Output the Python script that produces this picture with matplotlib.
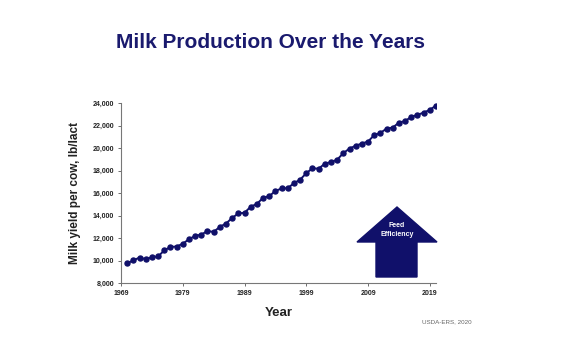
import matplotlib
matplotlib.use("Agg")
import matplotlib.pyplot as plt
from matplotlib.patches import Polygon

plt.rcParams['font.family'] = ['Liberation Sans', 'DejaVu Sans']

years = list(range(1970, 2021))
milk_per_cow = [
    9751, 10015, 10259, 10119, 10293, 10360, 10894, 11206, 11243, 11488,
    11891, 12183, 12306, 12622, 12541, 12994, 13285, 13786, 14185, 14244,
    14782, 15031, 15570, 15722, 16179, 16405, 16433, 16871, 17185, 17763,
    18197, 18162, 18608, 18749, 18960, 19550, 19951, 20204, 20396, 20576,
    21149, 21345, 21722, 21816, 22259, 22396, 22775, 22941, 23149, 23391,
    23777,
]
x_ticks = [1969, 1979, 1989, 1999, 2009, 2019]
y_ticks = list(range(8000, 24001, 2000))

navy = '#10106a'

fig = plt.figure(figsize=(5.67, 3.41), dpi=100)
ax = fig.add_axes([121 / 567, 58 / 341, 315 / 567, 180 / 341])

ax.plot(years, milk_per_cow, color=navy, lw=1.4, marker='o', ms=3.6,
        markerfacecolor=navy, markeredgecolor=navy)

ax.set_xlim(1969, 2020)
ax.set_ylim(8000, 24000)
ax.set_xticks(x_ticks)
ax.set_xticklabels([str(y) for y in x_ticks])
ax.set_yticks(y_ticks)
ax.set_yticklabels([f'{v:,}' for v in y_ticks])
ax.tick_params(axis='both', labelsize=5, colors='#555555', labelcolor='#222222',
               length=2, width=0.6, pad=3)
for lab in ax.get_xticklabels() + ax.get_yticklabels():
    lab.set_fontweight('bold')

for side in ('top', 'right'):
    ax.spines[side].set_visible(False)
for side in ('left', 'bottom'):
    ax.spines[side].set_color('#777777')
    ax.spines[side].set_linewidth(0.8)

ax.set_ylabel('Milk yield per cow, lb/lact', fontsize=8.5, fontweight='bold',
              color='#222222', labelpad=8)
ax.set_xlabel('Year', fontsize=9.5, fontweight='bold', color='#222222', labelpad=7)

# "Feed Efficiency" up-arrow drawn in figure pixel coordinates
def fx(px):
    return px / 567

def fy(py):
    return 1 - py / 341

arrow = Polygon([
    (fx(376), fy(277)), (fx(417), fy(277)), (fx(417), fy(242)),
    (fx(437), fy(242)), (fx(397), fy(207)), (fx(357), fy(242)),
    (fx(376), fy(242)),
], closed=True, transform=fig.transFigure, facecolor=navy, edgecolor=navy)
fig.patches.append(arrow)
fig.text(fx(397), fy(230), 'Feed\nEfficiency', color='white', fontsize=5,
         fontweight='bold', ha='center', va='center', linespacing=1.3)

fig.text(fx(270), fy(43), 'Milk Production Over the Years', fontsize=15,
         fontweight='bold', color='#1a1a6e', ha='center', va='center')
fig.text(fx(447), fy(322), 'USDA-ERS, 2020', fontsize=4.5, color='#666666',
         ha='center', va='center')

fig.savefig('out.png', dpi=100)
